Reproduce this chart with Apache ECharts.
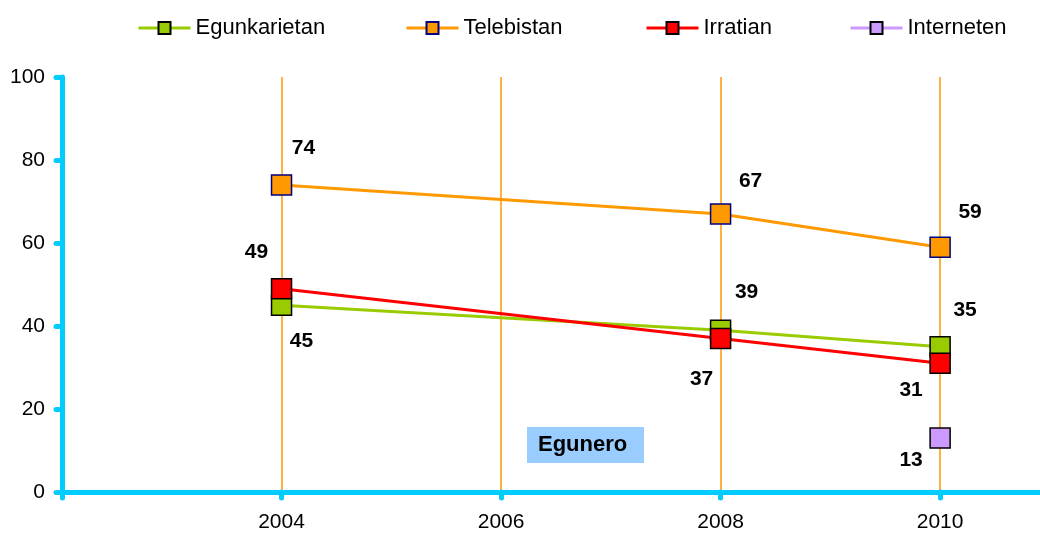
<!DOCTYPE html>
<html>
<head>
<meta charset="utf-8">
<script src="https://cdn.jsdelivr.net/npm/echarts@6/dist/echarts.min.js"></script>
<style>
  html, body { margin: 0; padding: 0; background: #fff; }
  #chart { width: 1040px; height: 537px; }
</style>
</head>
<body>
<div id="chart"></div>
<script>
const years = [2004, 2008, 2010];
const egunkarietan = [45, 39, 35];
const telebistan = [74, 67, 59];
const irratian = [49, 37, 31];
const interneten = [null, null, 13];
const seriesNames = ['Egunkarietan', 'Telebistan', 'Irratian', 'Interneten'];
const xTicks = [2002, 2004, 2006, 2008, 2010];
const xLabels = [2004, 2006, 2008, 2010];
const yTicks = [0, 20, 40, 60, 80, 100];

const chart = echarts.init(document.getElementById('chart'));

// label offsets per point (dx, dy from the marker)
const offsets = {
  Egunkarietan: [[20, 36], [26, -38], [25, -37]],
  Telebistan: [[22, -37], [30, -33], [30, -35]],
  Irratian: [[-25, -36], [-19, 41], [-29, 27]],
  Interneten: [[0, 0], [0, 0], [-29, 22]]
};
const colors = {
  Egunkarietan: '#99cc00',
  Telebistan: '#ff9900',
  Irratian: '#ff0000',
  Interneten: '#cc99ff'
};
const borders = {
  Egunkarietan: '#000000',
  Telebistan: '#000080',
  Irratian: '#000000',
  Interneten: '#000000'
};
const values = [egunkarietan, telebistan, irratian, interneten];

const series = seriesNames.map((name, si) => {
  const vals = values[si];
  const data = [];
  years.forEach((y, i) => {
    if (vals[i] === null) return;
    data.push({
      value: [y, vals[i]],
      label: {
        show: true,
        position: 'inside',
        offset: offsets[name][i],
        fontFamily: 'Liberation Sans',
        fontWeight: 'bold',
        fontSize: 21,
        color: '#000'
      }
    });
  });
  return {
    name: name,
    type: 'line',
    data: data,
    symbol: 'rect',
    symbolSize: 20,
    lineStyle: { color: colors[name], width: 3 },
    itemStyle: { color: colors[name], borderColor: borders[name], borderWidth: 1.5 },
    emphasis: { disabled: true },
    z: 3
  };
});

const legendLefts = [132, 400, 640, 844];
const legends = seriesNames.map((name, i) => ({
  data: [name],
  left: legendLefts[i],
  top: 12,
  itemWidth: 52,
  itemHeight: 15,
  itemGap: 5,
  lineStyle: { width: 3 },
  textStyle: { fontFamily: 'Liberation Sans', fontSize: 22, color: '#000' }
}));

const axisBlue = '#00ccff';
const option = {
  animation: false,
  color: seriesNames.map(n => colors[n]),
  legend: legends,
  grid: { left: 62, right: 0, top: 77, bottom: 45, containLabel: false },
  xAxis: {
    type: 'value',
    min: 2002,
    max: 2010.91,
    interval: 2,
    axisLine: { lineStyle: { color: axisBlue, width: 5, cap: 'round' } },
    axisTick: {
      show: true,
      length: 6,
      customValues: xTicks,
      lineStyle: { color: axisBlue, width: 5, cap: 'round' }
    },
    axisLabel: {
      margin: 20,
      fontFamily: 'Liberation Sans',
      fontSize: 21,
      color: '#000',
      customValues: xLabels,
      formatter: v => String(v)
    },
    splitLine: {
      show: true,
      showMinLine: false,
      lineStyle: { color: '#ff9900', width: 1.5 }
    }
  },
  yAxis: {
    type: 'value',
    min: 0,
    max: 100,
    interval: 20,
    z: 4,
    axisLine: { show: true, lineStyle: { color: axisBlue, width: 5, cap: 'round' } },
    axisTick: { show: true, length: 6, lineStyle: { color: axisBlue, width: 5, cap: 'round' } },
    axisLabel: {
      margin: 17,
      fontFamily: 'Liberation Sans',
      fontSize: 21,
      color: '#000',
      formatter: v => yTicks.includes(v) ? String(v) : ''
    },
    splitLine: { show: false }
  },
  graphic: [
    {
      type: 'rect',
      left: 527,
      top: 427,
      shape: { width: 117, height: 36 },
      style: { fill: '#99ccff' }
    },
    {
      type: 'text',
      left: 538,
      top: 434,
      style: {
        text: 'Egunero',
        font: 'bold 22px "Liberation Sans"',
        fill: '#000'
      }
    }
  ],
  series: series
};

chart.setOption(option);
window.addEventListener('resize', () => {
  chart.resize();
});
</script>
</body>
</html>
